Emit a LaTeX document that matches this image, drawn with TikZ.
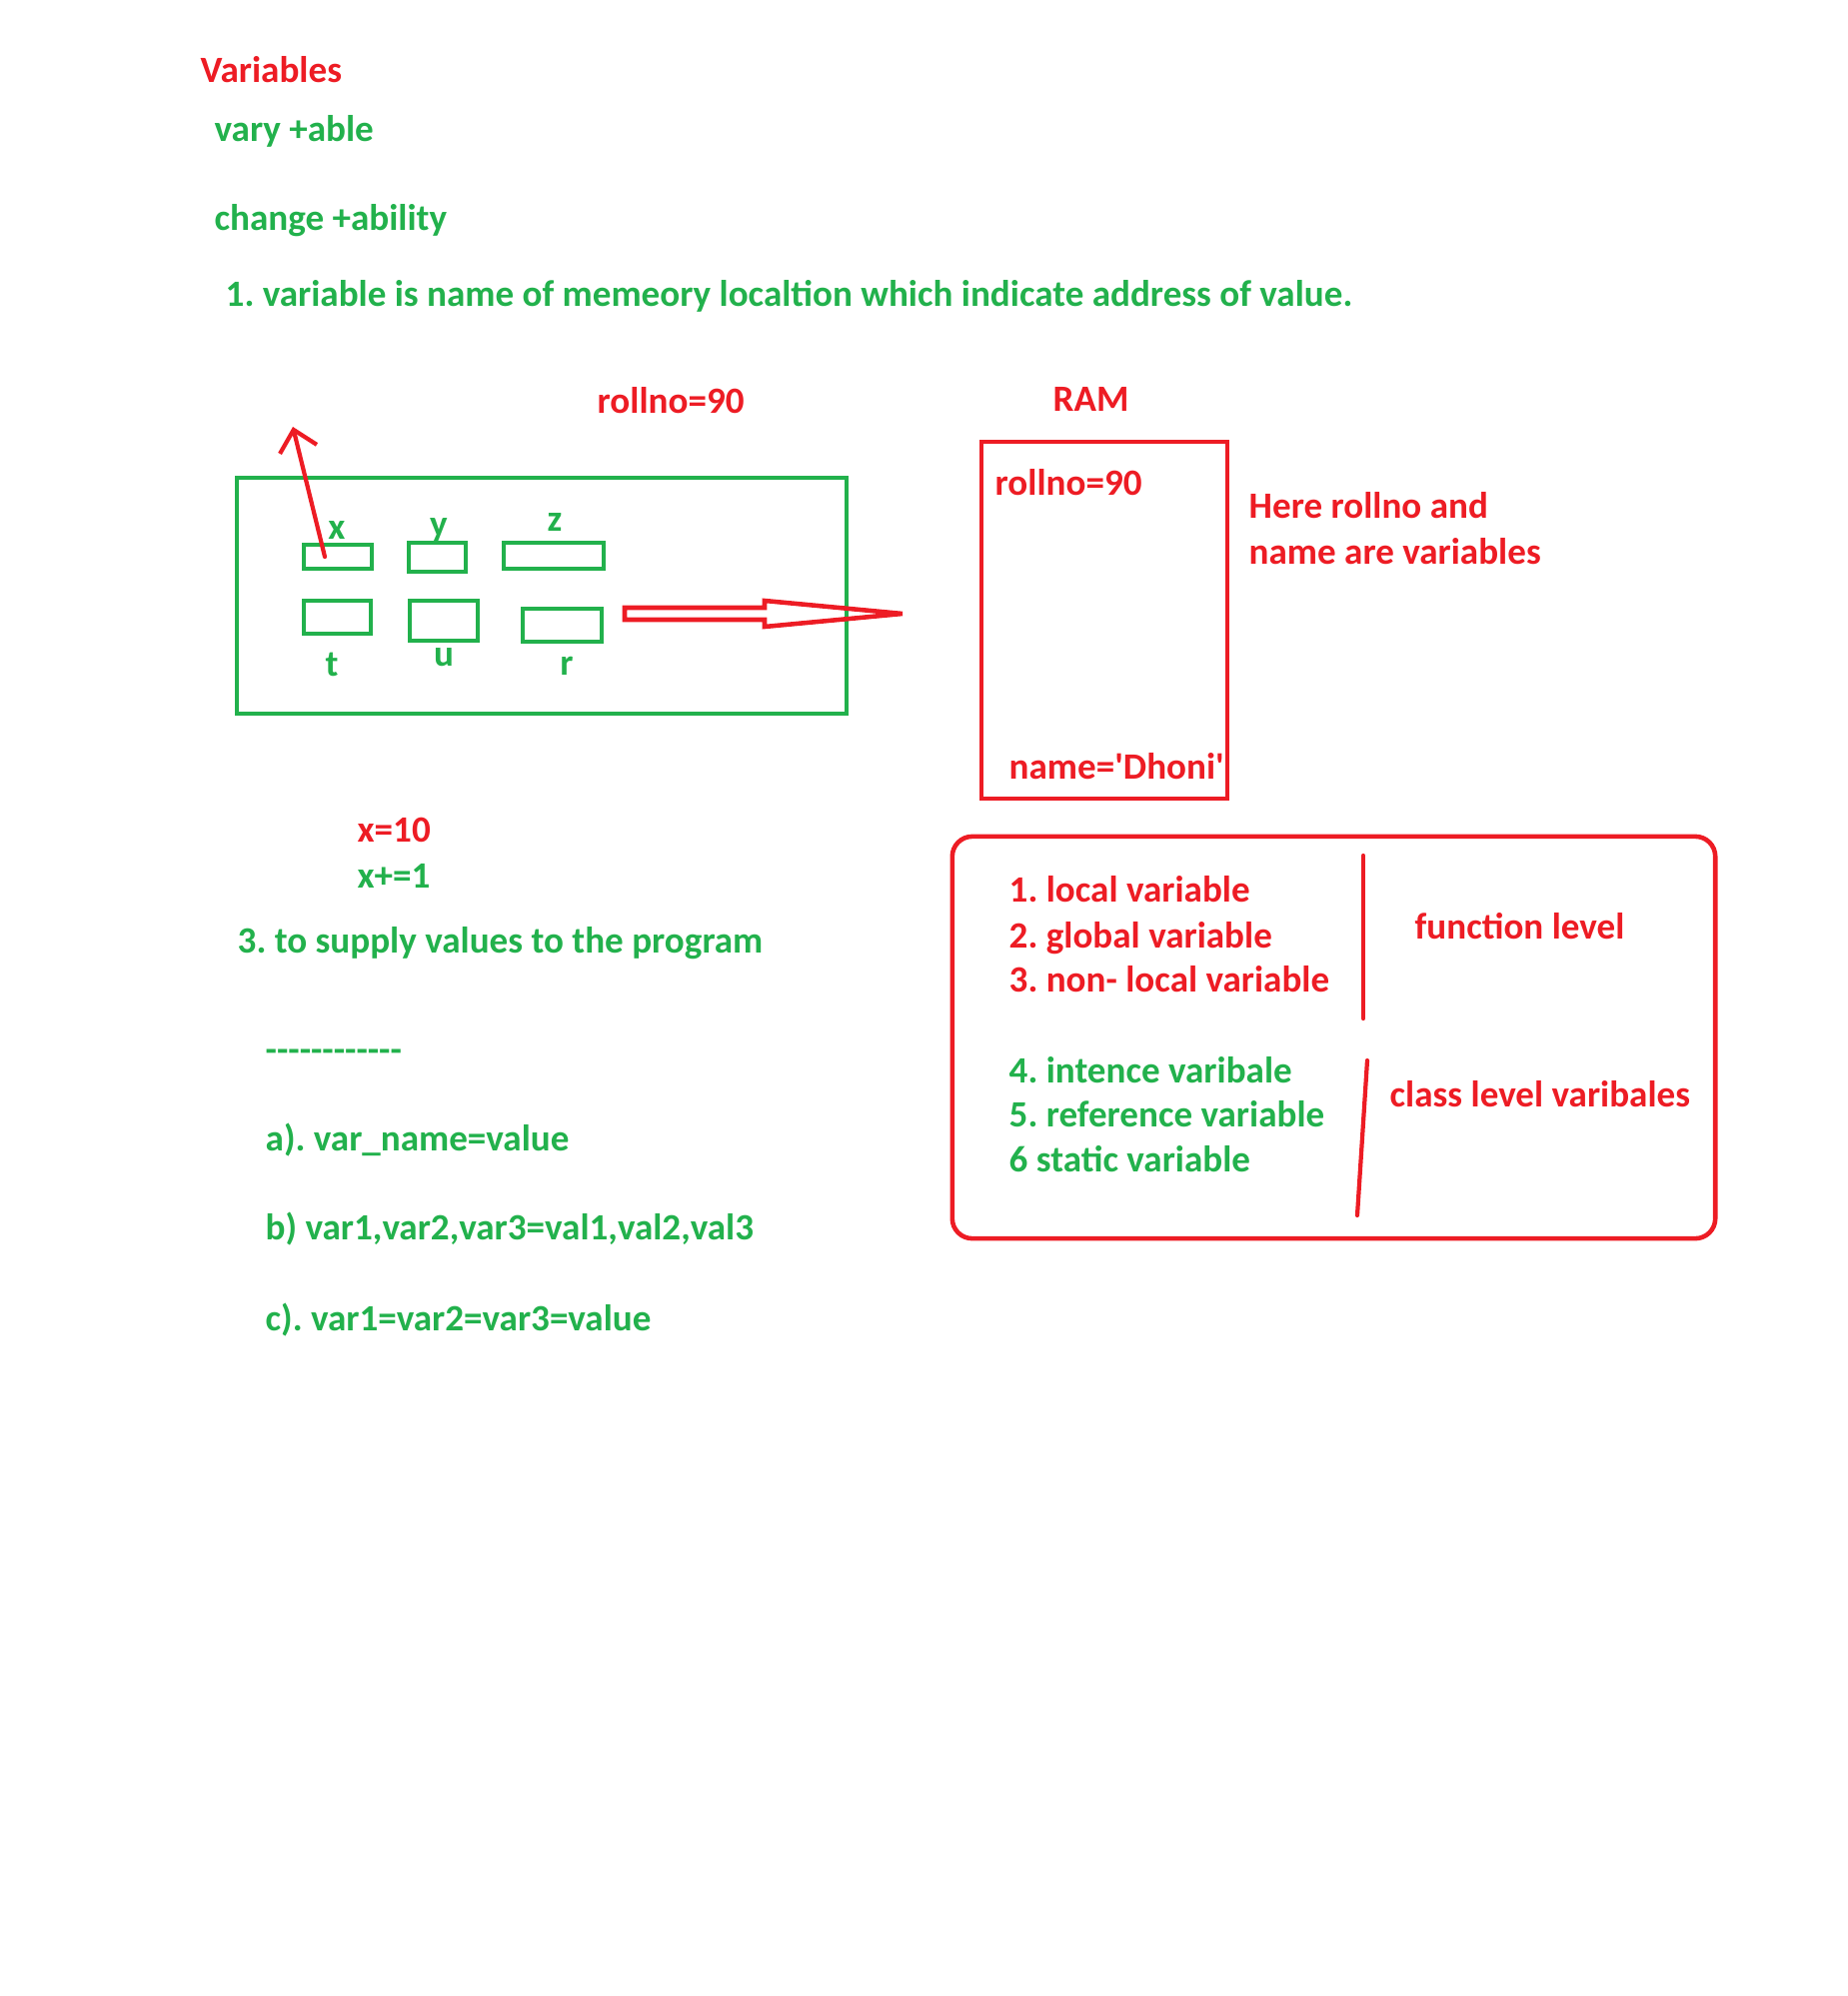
\documentclass[tikz,border=0pt]{standalone}
\usepackage{fontspec}
\setmainfont{Carlito}[Ligatures=TeXOff]
\usetikzlibrary{positioning,arrows.meta}
\definecolor{paintred}{RGB}{237,28,36}
\definecolor{paintgreen}{RGB}{34,177,76}
\frenchspacing
\tikzset{
  txt/.style={anchor=base west, inner sep=0pt, font=\fontsize{10.55}{12.5}\selectfont\bfseries},
  redtxt/.style={txt, text=paintred},
  greentxt/.style={txt, text=paintgreen},
  boxframe/.style={draw=#1, line width=1.3pt, inner sep=0pt},
  cell/.style={draw=paintgreen, line width=1.1pt, inner sep=0pt},
  redline/.style={draw=paintred, line width=1.2pt, line cap=round}
}
\begin{document}
\begin{tikzpicture}[x=0.01cm, y=-0.01cm]
\useasboundingbox (0,0) rectangle (1848,1997);
% heading
\node[redtxt] (title) at (200,83) {Variables};
\node[greentxt] (vary) at (214,142) {vary +able};
\node[greentxt] (change) at (214,231) {change +ability};
\node[greentxt] (def) at (225,307) {1. variable is name of memeory localtion which indicate address of value.};
% memory block
\node[redtxt] (rollno) at (597,413) {rollno=90};
\node[boxframe=paintgreen, minimum width=6.1cm, minimum height=2.36cm] (mem) at (542,596) {};
\foreach \n/\cx/\cy/\w/\h/\lx/\ly in {x/338/557/6.8/2.4/337/539, y/437.5/557.5/5.7/2.9/439/536,
    z/554/556/10/2.6/555/531, t/337.5/617.5/6.7/3.3/332/676, u/444/621/6.8/4/444/666,
    r/562.5/625.5/7.9/3.3/567/675}
{
  \node[cell, minimum width=\w mm, minimum height=\h mm] (box\n) at (\cx,\cy) {};
  \node[greentxt, anchor=base] (lbl\n) at (\lx,\ly) {\n};
}
\coordinate (uptip) at (293,427);
\draw[redline, -{Straight Barb[length=2mm, width=3.8mm]}] ([xshift=-1.3mm]boxx.center) -- (uptip);
% hollow arrow
\draw[paintred, line width=1.3pt, line join=miter]
  (625,608) -- (765,608) -- (765,601) -- (903,614) -- (765,627) -- (765,620) -- (625,620) -- cycle;
% RAM
\node[redtxt] (ramlbl) at (1053,411) {RAM};
\node[boxframe=paintred, minimum width=2.46cm, minimum height=3.57cm] (ram) at (1105,620.5) {};
\node[redtxt] (ramroll) at (995,495) {rollno=90};
\node[redtxt] (ramname) at (1009,779) {name='Dhoni'};
\node[redtxt] (note1) at (1249,518) {Here rollno and};
\node[redtxt] (note2) at (1249,564) {name are variables};
% usage
\node[redtxt] (assign) at (357,842) {x=10};
\node[greentxt] (incr) at (357,888) {x+=1};
\node[greentxt] (supply) at (237,953) {3. to supply values to the program};
\node[greentxt] (rule) at (265,1062) {------------};
\node[greentxt] (forma) at (265,1151) {a). var\_name=value};
\node[greentxt] (formb) at (265,1240) {b) var1,var2,var3=val1,val2,val3};
\node[greentxt] (formc) at (265,1331) {c). var1=var2=var3=value};
% kinds of variables
\node[boxframe=paintred, rounded corners=2mm, minimum width=7.63cm, minimum height=4.02cm] (kinds) at (1334.5,1038) {};
\node[redtxt] (k1) at (1009,902) {1. local variable};
\node[redtxt] (k2) at (1009,948) {2. global variable};
\node[redtxt] (k3) at (1009,992) {3. non- local variable};
\node[greentxt] (k4) at (1009,1083) {4. intence varibale};
\node[greentxt] (k5) at (1009,1127) {5. reference variable};
\node[greentxt] (k6) at (1009,1172) {6 static variable};
\draw[redline] (1364,856) -- (1364,1019);
\draw[redline] (1368,1061) -- (1358,1216);
\node[redtxt] (funclvl) at (1415,939) {function level};
\node[redtxt] (classlvl) at (1390,1107) {class level varibales};
\end{tikzpicture}
\end{document}
